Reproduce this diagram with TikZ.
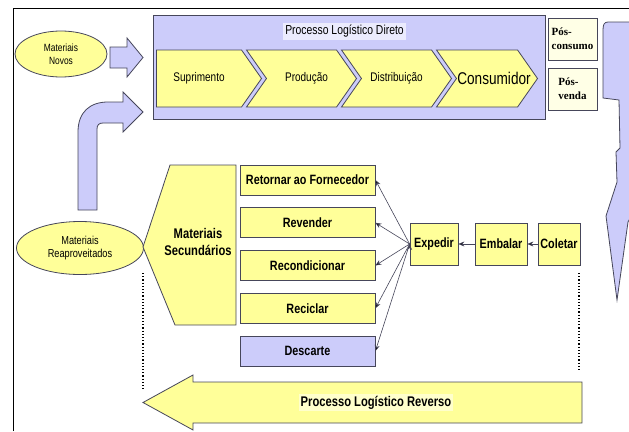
\documentclass[tikz,border=0pt]{standalone}
\usepackage{fontspec}
\setmainfont{Liberation Sans}[FakeStretch=0.8]
\newfontfamily\posfont{Liberation Serif}
\usetikzlibrary{positioning,shapes.geometric,shapes.symbols,arrows.meta}

\definecolor{lavender}{RGB}{204,204,250}
\definecolor{paleyellow}{RGB}{255,255,153}
\definecolor{edgegray}{RGB}{70,70,90}

\tikzset{
	flow/.style={fill=lavender, draw=edgegray, line width=0.8pt},
	material/.style={ellipse, fill=paleyellow, draw=edgegray, line width=0.8pt, align=center, inner sep=0pt},
	stage/.style={signal, signal to=east, signal from=west, signal pointer angle=110, fill=paleyellow, draw=edgegray, line width=0.8pt, minimum height=57pt, inner sep=0pt, font=\fontsize{12.5}{14}\selectfont},
	destino/.style={rectangle, fill=paleyellow, draw=edgegray, line width=0.8pt, minimum width=135pt, minimum height=30pt, inner sep=0pt, font=\bfseries\fontsize{13.5}{15}\selectfont},
	etapa/.style={rectangle, fill=paleyellow, draw=edgegray, line width=0.8pt, minimum height=42pt, inner sep=1pt, font=\bfseries\fontsize{13.5}{15}\selectfont},
	posbox/.style={rectangle, fill=paleyellow!25, draw=edgegray, line width=0.6pt, minimum width=49pt, minimum height=42pt, align=left, inner sep=0pt, font=\posfont\bfseries\fontsize{11}{14}\selectfont},
}

\begin{document}
\begin{tikzpicture}[x=1pt, y=-1pt, node distance=42.75pt, on grid]
	\useasboundingbox (0,0) rectangle (629,431);
	\draw[line width=1pt] (13,431) -- (13,8) -- (629,8);

	\node[flow, rectangle, minimum width=392pt, minimum height=104pt, anchor=north west] (direto) at (153,15) {};
	\node[fill=lavender!40, inner sep=2pt, font=\fontsize{13}{14}\selectfont] (t_direto) at (344.5,31.5) {Processo Logístico Direto};

	\node[stage, signal from=nowhere, minimum width=105pt, anchor=east] (suprimento) at (262,78.5) {\makebox[0pt]{Suprimento}};
	\node[stage, minimum width=110pt, anchor=east] (producao) at (357,78.5) {\makebox[0pt]{\hspace{10pt}Produção}};
	\node[stage, minimum width=110pt, anchor=east] (distribuicao) at (452,78.5) {\makebox[0pt]{Distribuição}};
	\node[stage, minimum width=101pt, anchor=east, font=\fontsize{17}{18}\selectfont] (consumidor) at (538,78.5) {\makebox[0pt]{\hspace{14pt}Consumidor}};

	\node[posbox] (pos_consumo) at (572.5,39) {Pós-\\consumo};
	\node[posbox] (pos_venda) at (572.5,89) {Pós-\\venda};

	\draw[flow] (640,22) -- (608,22) .. controls (604,22) and (603,25) .. (603,30) -- (603,98) -- (619,100) -- (620,148) -- (616,152) -- (617,182) -- (606,216) -- (617,300) -- (628,222) -- (640,200) -- cycle;

	\node[material, minimum width=92pt, minimum height=46pt, font=\fontsize{10.5}{13}\selectfont] (m_novos) at (61,54) {Materiais\\Novos};
	\draw[flow] (110,47) -- (127,47) -- (127,38) -- (143,57.5) -- (127,77) -- (127,68) -- (110,68) -- cycle;

	\draw[flow] (78,210) -- (78,132) .. controls (78,112) and (90,102) .. (108,102) -- (123,102) -- (123,92) -- (143,112) -- (123,132) -- (123,123) -- (103,123) .. controls (99,123) and (97,125) .. (97,129) -- (97,210) -- cycle;
	\node[material, minimum width=127pt, minimum height=53pt, font=\fontsize{11.5}{13}\selectfont] (m_reap) at (80,248) {Materiais\\Reaproveitados};

	\draw[fill=paleyellow, draw=edgegray, line width=0.8pt] (170,165) -- (236,165) -- (236,325) -- (175,325) -- (143,247) -- cycle;
	\node[align=center, font=\bfseries\fontsize{14}{17}\selectfont] (m_sec) at (198,242) {Materiais\\Secundários};

	\node[destino] (retornar) at (307.5,180) {Retornar ao Fornecedor};
	\node[destino] (revender) [below=of retornar] {Revender};
	\node[destino] (recondicionar) [below=of revender] {Recondicionar};
	\node[destino] (reciclar) [below=of recondicionar] {Reciclar};
	\node[destino, fill=lavender] (descarte) [below=of reciclar] {Descarte};

	\node[etapa, minimum width=48pt] (expedir) at (434,244) {Expedir};
	\node[etapa, minimum width=52pt] (embalar) at (501,244) {Embalar};
	\node[etapa, minimum width=42pt] (coletar) at (559,244) {Coletar};

	\path[-{Stealth[length=6pt,width=5pt]}, line width=0.6pt, draw=edgegray]
	(coletar) edge (embalar)
	(embalar) edge (expedir)
	(expedir.west) edge (retornar.east)
	(expedir.west) edge (revender.east)
	(expedir.west) edge (recondicionar.east)
	(expedir.west) edge (reciclar.east)
	(expedir.west) edge (descarte.east)
	;

	\draw[dotted, line width=1.2pt] (143,273) -- (143,390);
	\draw[dotted, line width=1.2pt] (579,273) -- (579,370);

	\draw[fill=paleyellow, draw=edgegray, line width=0.8pt] (582,382) -- (193,382) -- (193,375) -- (143,402.5) -- (193,430) -- (193,423) -- (582,423) -- cycle;
	\node[fill=paleyellow!50, inner sep=1.5pt, font=\bfseries\fontsize{14}{15}\selectfont] (t_reverso) at (376,402.5) {Processo Logístico Reverso};
\end{tikzpicture}
\end{document}
